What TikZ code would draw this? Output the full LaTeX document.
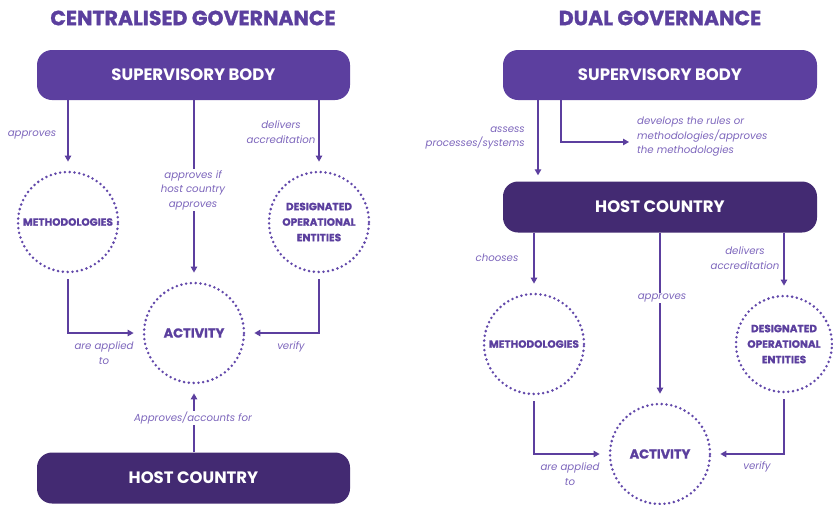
\documentclass[tikz,border=0pt]{standalone}
\usepackage{fontspec}
\setmainfont{Poppins}
\newfontfamily\heavyfont{Poppins}[BoldFeatures={FakeBold=1.2}]
\usetikzlibrary{arrows.meta}
\definecolor{sbcol}{HTML}{5C3F9F}
\definecolor{hccol}{HTML}{432A72}
\definecolor{txtcol}{HTML}{5B3F9E}
\definecolor{lblcol}{HTML}{7D66BC}
\definecolor{dotcol}{HTML}{6248AA}
\tikzset{
  title/.style={text=txtcol,font=\heavyfont\bfseries\fontsize{20.5}{24}\selectfont},
  bigbox/.style={rectangle,rounded corners=15pt,minimum width=313pt,minimum height=50pt,text=white,font=\bfseries\fontsize{16.5}{18}\selectfont,inner sep=0pt},
  sbbox/.style={bigbox,fill=sbcol},
  hcbox/.style={bigbox,fill=hccol},
  dotcirc/.style={circle,minimum size=100pt,inner sep=0pt,draw=dotcol,line width=2.8pt,dash pattern=on 0pt off 4.8pt,line cap=round,text=txtcol,align=center,font=\heavyfont\bfseries\fontsize{10.5}{15.5}\selectfont},
  lbl/.style={text=lblcol,font=\itshape\fontsize{10.2}{14.5}\selectfont,inner sep=0pt},
  arr/.style={draw=sbcol,line width=1.2pt,-{Triangle[length=6pt,width=6.5pt]}},
}
\begin{document}
\begin{tikzpicture}[x=1pt,y=-1pt]
\useasboundingbox (0,0) rectangle (833,504);
% ---------- left panel ----------
\node[title] (t1) at (193,18) {CENTRALISED GOVERNANCE};
\node[sbbox] (sb1) at (193.5,75) {SUPERVISORY BODY};
\node[dotcirc] (meth1) at (68,222) {METHODOLOGIES};
\node[dotcirc] (doe1) at (319,222) {DESIGNATED\\OPERATIONAL\\ENTITIES};
\node[dotcirc,font=\heavyfont\bfseries\fontsize{13}{15}\selectfont] (act1) at (194,333) {ACTIVITY};
\node[hcbox,minimum height=51pt] (hc1) at (193.5,478) {HOST COUNTRY};

\draw[arr,shorten >=9pt] (meth1.north |- sb1.south) -- (meth1.north);
\draw[arr,shorten >=9pt] (sb1.south -| act1.north) -- (act1.north);
\draw[arr,shorten >=9pt] (doe1.north |- sb1.south) -- (doe1.north);
\draw[arr,shorten <=6pt,shorten >=9pt] (meth1.south) |- (act1.west);
\draw[arr,shorten <=6pt,shorten >=9pt] (doe1.south) |- (act1.east);
\draw[arr,shorten >=9pt] (hc1.north -| act1.south) -- (act1.south);

\node[lbl] (l1) at (32,135) {approves};
\node[lbl,align=center,fill=white,inner sep=1pt] (l2) at (193,190) {approves if\\host country\\approves};
\node[lbl,align=center] (l3) at (281,132) {delivers\\accreditation};
\node[lbl,align=center] (l4) at (104,353) {are applied\\to};
\node[lbl] (l5) at (291,347) {verify};
\node[lbl,fill=white,inner sep=1pt] (l6) at (193,418) {Approves/accounts for};

% ---------- right panel ----------
\node[title] (t2) at (660,18) {DUAL GOVERNANCE};
\node[sbbox,minimum width=314pt] (sb2) at (660,75) {SUPERVISORY BODY};
\node[hcbox,minimum width=314pt,minimum height=51pt] (hc2) at (660,207) {HOST COUNTRY};
\node[dotcirc] (meth2) at (534,344) {METHODOLOGIES};
\node[dotcirc,minimum size=96pt] (doe2) at (784,344) {DESIGNATED\\OPERATIONAL\\ENTITIES};
\node[dotcirc,font=\heavyfont\bfseries\fontsize{13}{15}\selectfont] (act2) at (660,454) {ACTIVITY};

\coordinate (devtip) at (629,142);
\draw[arr,shorten >=6pt] ([xshift=-122pt]sb2.south) -- ([xshift=-122pt]hc2.north);
\draw[arr] ([xshift=-99pt]sb2.south) |- (devtip);
\draw[arr,shorten >=9pt] (meth2.north |- hc2.south) -- (meth2.north);
\draw[arr,shorten >=9pt] (hc2.south -| act2.north) -- (act2.north);
\draw[arr,shorten >=9pt] (doe2.north |- hc2.south) -- (doe2.north);
\draw[arr,shorten <=6pt,shorten >=9pt] (meth2.south) |- (act2.west);
\draw[arr,shorten <=6pt,shorten >=9pt] (doe2.south) |- (act2.east);

\node[lbl,align=right,anchor=east] (r1) at (525,138) {assess\\processes/systems};
\node[lbl,align=left,anchor=west] (r2) at (637,137) {develops the rules or\\methodologies/approves\\the methodologies};
\node[lbl] (r3) at (497,258) {chooses};
\node[lbl,fill=white,inner sep=1pt] (r4) at (662,298) {approves};
\node[lbl,align=center] (r5) at (745,258) {delivers\\accreditation};
\node[lbl,align=center] (r6) at (570,474) {are applied\\to};
\node[lbl] (r7) at (757,467) {verify};
\end{tikzpicture}
\end{document}
